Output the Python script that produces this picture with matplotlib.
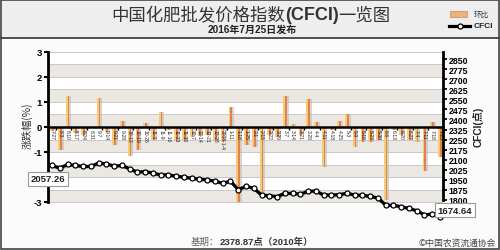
import matplotlib
matplotlib.use('Agg')
import matplotlib.pyplot as plt
import numpy as np
from matplotlib.patches import Rectangle
from matplotlib.lines import Line2D

# ---------------- data ----------------
dates = ['7-27', '8-3', '8-10', '8-17', '8-24', '8-31', '9-7', '9-14', '9-21', '9-28',
         '10-12', '10-19', '10-26', '11-2', '11-9', '11-16', '11-23', '11-30', '12-7', '12-14',
         '12-21', '12-28', '2016-1-4', '1-11', '1-18', '1-25', '2-1', '2-15', '2-22', '2-29',
         '3-7', '3-14', '3-21', '3-28', '4-4', '4-11', '4-18', '4-25', '5-3', '5-9',
         '5-16', '5-23', '5-30', '6-6', '6-13', '6-20', '6-27', '7-4', '7-11', '7-18', '7-25']
pct = [-0.15, -0.9, 1.25, -0.25, -0.3, -0.05, 1.15, -0.2, -0.7, 0.25,
       -1.15, -0.9, 0.15, -0.5, 0.6, -0.1, -0.5, -0.5, -0.4, -0.35,
       -0.3, -0.5, -0.6, 0.8, -3.0, -0.7, -0.8, -2.6, -0.3, -0.4,
       1.25, 0.1, -0.3, 1.1, 0.2, -1.6, -0.1, 0.25, 0.5, -0.8,
       -0.6, -0.6, -0.5, -2.9, -0.1, -0.3, -0.5, -0.6, -1.75, 0.2, -1.2]
cfci = [2057.26, 2037, 2065, 2057, 2050, 2050, 2075, 2070, 2052, 2057,
        2032, 2007, 2012, 2000, 1987, 1987, 1977, 1970, 1962, 1955,
        1950, 1940, 1925, 1940, 1877, 1902, 1887, 1837, 1832, 1825,
        1850, 1850, 1843, 1865, 1867, 1837, 1837, 1840, 1850, 1837,
        1835, 1827, 1815, 1762, 1760, 1750, 1737, 1720, 1690, 1695, 1674.64]
left_ticks = [3, 2, 1, 0, -1, -2, -3]
left_labels = ['3', '2', '1', '0', '-1', '', '-3']   # -2 hidden behind the value box in the reference
right_ticks = list(range(1800, 2851, 75))
first_label = '2057.26'
last_label = '1674.64'

CJK = ['Noto Sans CJK SC', 'DejaVu Sans']
LAT = ['Liberation Sans', 'Noto Sans CJK SC', 'DejaVu Sans']
plt.rcParams['font.family'] = CJK

W, H = 500, 251
fig = plt.figure(figsize=(5.0, 2.51), dpi=100)
fig.patch.set_facecolor('#fbfbfb')

def fx(px):
    return px / W

def fy(py):
    return 1 - py / H

# title band background + frame
fig.patches.append(Rectangle((0, fy(39)), 1, 1 - fy(39), transform=fig.transFigure,
                             facecolor='#eeeeee', edgecolor='none', zorder=0))
fig.lines.append(Line2D([0, 1], [fy(39), fy(39)], transform=fig.transFigure,
                        color='#333333', lw=1.2))
fig.patches.append(Rectangle((fx(0.8), fy(250.2)), fx(498.4), 1 - fy(249.4),
                             transform=fig.transFigure, facecolor='none',
                             edgecolor='#444444', lw=1.2, zorder=10))

# ---------------- axes ----------------
top_px, bot_px = 53, 226
ax = fig.add_axes([fx(48), fy(bot_px), fx(395), (bot_px - top_px) / H])
ax.set_facecolor('none')
n = len(dates)
x = np.arange(n)
ax.set_xlim(-0.515, 50.39)
ax.set_ylim(-3.92, 3.0)

# bands and grid
for lo in np.arange(-3, 3, 0.5):
    idx = int(round((lo + 3) / 0.5))
    fc = '#ebe7e3' if idx % 2 == 0 else '#ffffff'
    ax.axhspan(lo, lo + 0.5, facecolor=fc, edgecolor='none', zorder=0)
for g in np.arange(-3, 3.01, 0.5):
    ax.axhline(g, color='#cdc8c3', lw=0.7, zorder=1)

# bars: shadow + two-tone body
bw = 0.46
ax.bar(x + 0.32, pct, width=0.34, color='#b9b4b0', alpha=0.55, zorder=2)
ax.bar(x - bw / 4, pct, width=bw / 2, color='#f5cc70', zorder=3, linewidth=0)
ax.bar(x + bw / 4, pct, width=bw / 2, color='#e67f50', zorder=3, linewidth=0)

# zero line with small ticks
ax.axhline(0, color='black', lw=1.8, zorder=4)
ax.vlines(np.arange(0.5, n, 2), -0.12, 0, color='black', lw=1.0, zorder=4)

# date labels
for i, d in enumerate(dates):
    ax.text(i, -0.1, d, rotation=270, ha='center', va='top', fontsize=3.6,
            family=LAT, color='#222222', zorder=5)

# left axis
for s in ['top', 'bottom', 'right']:
    ax.spines[s].set_visible(False)
ax.spines['left'].set_linewidth(2.0)
ax.spines['left'].set_bounds(-3, 3)
ax.set_yticks(left_ticks)
ax.set_yticklabels(left_labels, fontsize=6.8, fontweight='bold', family=LAT)
ax.tick_params(axis='y', direction='out', length=3, width=1.5, pad=1.5, colors='black')
ax.set_xticks([])

# right axis
ax2 = ax.twinx()
ax2.set_ylim(1613.8, 2902.2)
for s in ['top', 'bottom', 'left']:
    ax2.spines[s].set_visible(False)
ax2.spines['right'].set_linewidth(2.0)
ax2.spines['right'].set_bounds(1800, 2902.2)
ax2.set_yticks(right_ticks)
ax2.set_yticklabels([str(t) for t in right_ticks], fontsize=6.3, fontweight='bold', family=LAT)
ax2.tick_params(axis='y', direction='out', length=3, width=1.3, pad=1, colors='black')

# CFCI line
ax2.plot(x + 0.12, np.array(cfci) - 4, color='#888888', lw=2.4, alpha=0.5, zorder=5, clip_on=False)
ax2.plot(x, cfci, color='black', lw=2.3, marker='o', markersize=3.6, markerfacecolor='white',
         markeredgecolor='black', markeredgewidth=0.9, zorder=6, clip_on=False)

# value boxes
box = dict(boxstyle='square,pad=0.25', facecolor='white', edgecolor='#999999', lw=0.8)
fig.text(fx(48), fy(180), first_label, ha='center', va='center', fontsize=6.8,
         fontweight='bold', family=LAT, color='#222222', bbox=box, zorder=20)
fig.text(fx(455), fy(211), last_label, ha='center', va='center', fontsize=6.8,
         fontweight='bold', family=LAT, color='#222222', bbox=box, zorder=20)

# axis titles
fig.text(fx(27), fy(126), '涨跌幅(%)', rotation=90, ha='center', va='center',
         fontsize=7.3, color='#333333', family=CJK)
fig.text(fx(478), fy(127), 'CFCI(点)', rotation=90, ha='center', va='center',
         fontsize=7.3, color='#222222', fontweight='bold', family=LAT)

renderer = fig.canvas.get_renderer()

def row(parts, center_px, y_px):
    objs, widths = [], []
    for s, wgt, fam, fs, col in parts:
        t = fig.text(0, fy(y_px), s, ha='left', va='center', fontsize=fs, fontweight=wgt,
                     family=fam, color=col)
        objs.append(t)
        widths.append(t.get_window_extent(renderer).width)
    cur = center_px - sum(widths) / 2
    for t, wdt in zip(objs, widths):
        t.set_x(fx(cur))
        cur += wdt

# title
row([('中国化肥批发价格指数', 'normal', CJK, 12.5, '#333333'),
     ('(CFCI)', 'bold', LAT, 13, '#333333'),
     ('一览图', 'normal', CJK, 12.5, '#333333')], 251, 16)

fig.text(fx(252), fy(29.5), '2016年7月25日发布', ha='center', va='center', fontsize=7.2,
         fontweight='bold', family=LAT, color='#222222')

# legend
fig.patches.append(Rectangle((fx(450), fy(18)), fx(17), (18 - 12) / H, transform=fig.transFigure,
                             facecolor='#f0b07a', edgecolor='#c9a48a', lw=0.8, zorder=5))
fig.text(fx(474), fy(15), '环比', ha='left', va='center', fontsize=5.5, color='#333333', family=CJK)
fig.lines.append(Line2D([fx(449), fx(470)], [fy(27), fy(27)], transform=fig.transFigure,
                        color='black', lw=2.3, zorder=5))
fig.lines.append(Line2D([fx(459.5)], [fy(27)], transform=fig.transFigure, color='black',
                        marker='o', markersize=3.6, markerfacecolor='white', markeredgecolor='black',
                        markeredgewidth=0.9, zorder=6))
fig.text(fx(474), fy(27), 'CFCI', ha='left', va='center', fontsize=6, fontweight='bold',
         color='#222222', family=LAT)

# footer
row([('基期：', 'normal', CJK, 6.8, '#666666'),
     ('2378.87点（2010年）', 'bold', LAT, 6.8, '#333333')], 252, 242)
fig.text(fx(496), fy(243), '©中国农资流通协会', ha='right', va='center', fontsize=6.3,
         color='#444444', family=CJK)

fig.savefig('out.png', dpi=100, facecolor=fig.get_facecolor())
